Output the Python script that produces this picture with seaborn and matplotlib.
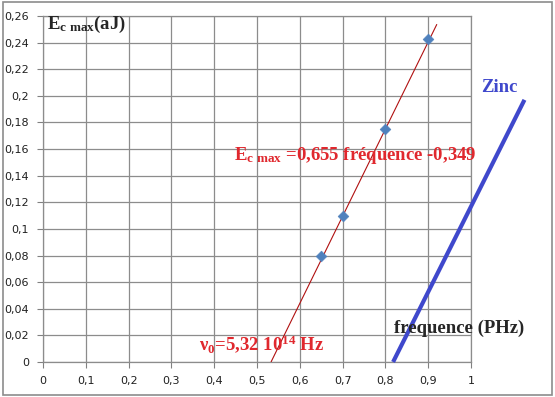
import matplotlib
matplotlib.use('Agg')
import matplotlib.pyplot as plt
import seaborn as sns
import pandas as pd
import numpy as np

# measured points
freq = [0.65, 0.70, 0.80, 0.90]
ec_max = [0.08, 0.11, 0.175, 0.243]

# trend line (from the chart equation)
slope = 0.655
intercept = -0.349
trend_x = [0.533, 0.92]

# zinc line
zinc_x = [0.818, 1.125]
zinc_ec = [0.0, 0.197]

x_ticks = [0, 0.1, 0.2, 0.3, 0.4, 0.5, 0.6, 0.7, 0.8, 0.9, 1]
y_ticks = [0, 0.02, 0.04, 0.06, 0.08, 0.1, 0.12, 0.14, 0.16, 0.18, 0.2, 0.22, 0.24, 0.26]


def fr(v):
    return ('%g' % v).replace('.', ',')


sns.set_style('white')
plt.rcParams['mathtext.fontset'] = 'custom'
plt.rcParams['mathtext.rm'] = 'Liberation Serif:bold'
plt.rcParams['mathtext.it'] = 'Liberation Serif:bold'
plt.rcParams['mathtext.bf'] = 'Liberation Serif:bold'

fig = plt.figure(figsize=(5.55, 3.97), dpi=100)
ax = fig.add_axes([0.0775, 0.0882, 0.7711, 0.8715])

df = pd.DataFrame({'freq': freq, 'ec': ec_max})

tx = np.array(trend_x)
ax.plot(tx, slope * tx + intercept, color='#B01010', lw=0.8, zorder=3)
ax.plot(zinc_x, zinc_ec, color='#3F48CC', lw=3, zorder=3,
        clip_on=False, solid_capstyle='butt')

sns.scatterplot(data=df, x='freq', y='ec', marker='D', s=30, color='#4F81BD',
                edgecolor='#4F81BD', ax=ax, zorder=4, clip_on=False)

ax.set_xlim(0, 1)
ax.set_ylim(0, 0.26)
ax.set_xticks(x_ticks)
ax.set_yticks(y_ticks)
ax.set_xticklabels([fr(v) for v in x_ticks])
ax.set_yticklabels([fr(v) for v in y_ticks])
ax.tick_params(axis='both', labelsize=8, length=4, color='#808080',
               labelcolor='#202020', direction='out', left=True, bottom=True, pad=6)
ax.grid(True, color='#8C8C8C', lw=0.9)
for s in ax.spines.values():
    s.set_color('#8C8C8C')
    s.set_linewidth(0.9)
ax.set_xlabel('')
ax.set_ylabel('')

serif = 'Liberation Serif'
fs = 13.5
fig.text(47 / 555, 1 - 24 / 397, r'E$_{\mathregular{c\ max}}$(aJ)', fontsize=fs,
         fontweight='bold', family=serif, va='center', ha='left')
fig.text(234 / 555, 1 - 156 / 397,
         r'E$_{\mathregular{c\ max}}$ =0,655 fréquence -0,349', fontsize=fs,
         fontweight='bold', family=serif, color='#E0282E', va='center', ha='left')
fig.text(481 / 555, 1 - 88 / 397, 'Zinc', fontsize=fs, fontweight='bold',
         family=serif, color='#3F48CC', va='center', ha='left')
fig.text(394 / 555, 1 - 328 / 397, 'frequence (PHz)', fontsize=fs,
         fontweight='bold', family=serif, va='center', ha='left')
fig.text(199 / 555, 1 - 344 / 397, r'ν$_{\mathregular{0}}$=5,32 10$^{\mathregular{14}}$ Hz',
         fontsize=fs, fontweight='bold', family=serif, color='#E0282E',
         va='center', ha='left')

# outer frame
fig.patches.append(plt.Rectangle((0.006, 0.006), 0.988, 0.988, transform=fig.transFigure,
                                 fill=False, edgecolor='#8C8C8C', lw=1.2))

fig.savefig('out.png', dpi=100)
